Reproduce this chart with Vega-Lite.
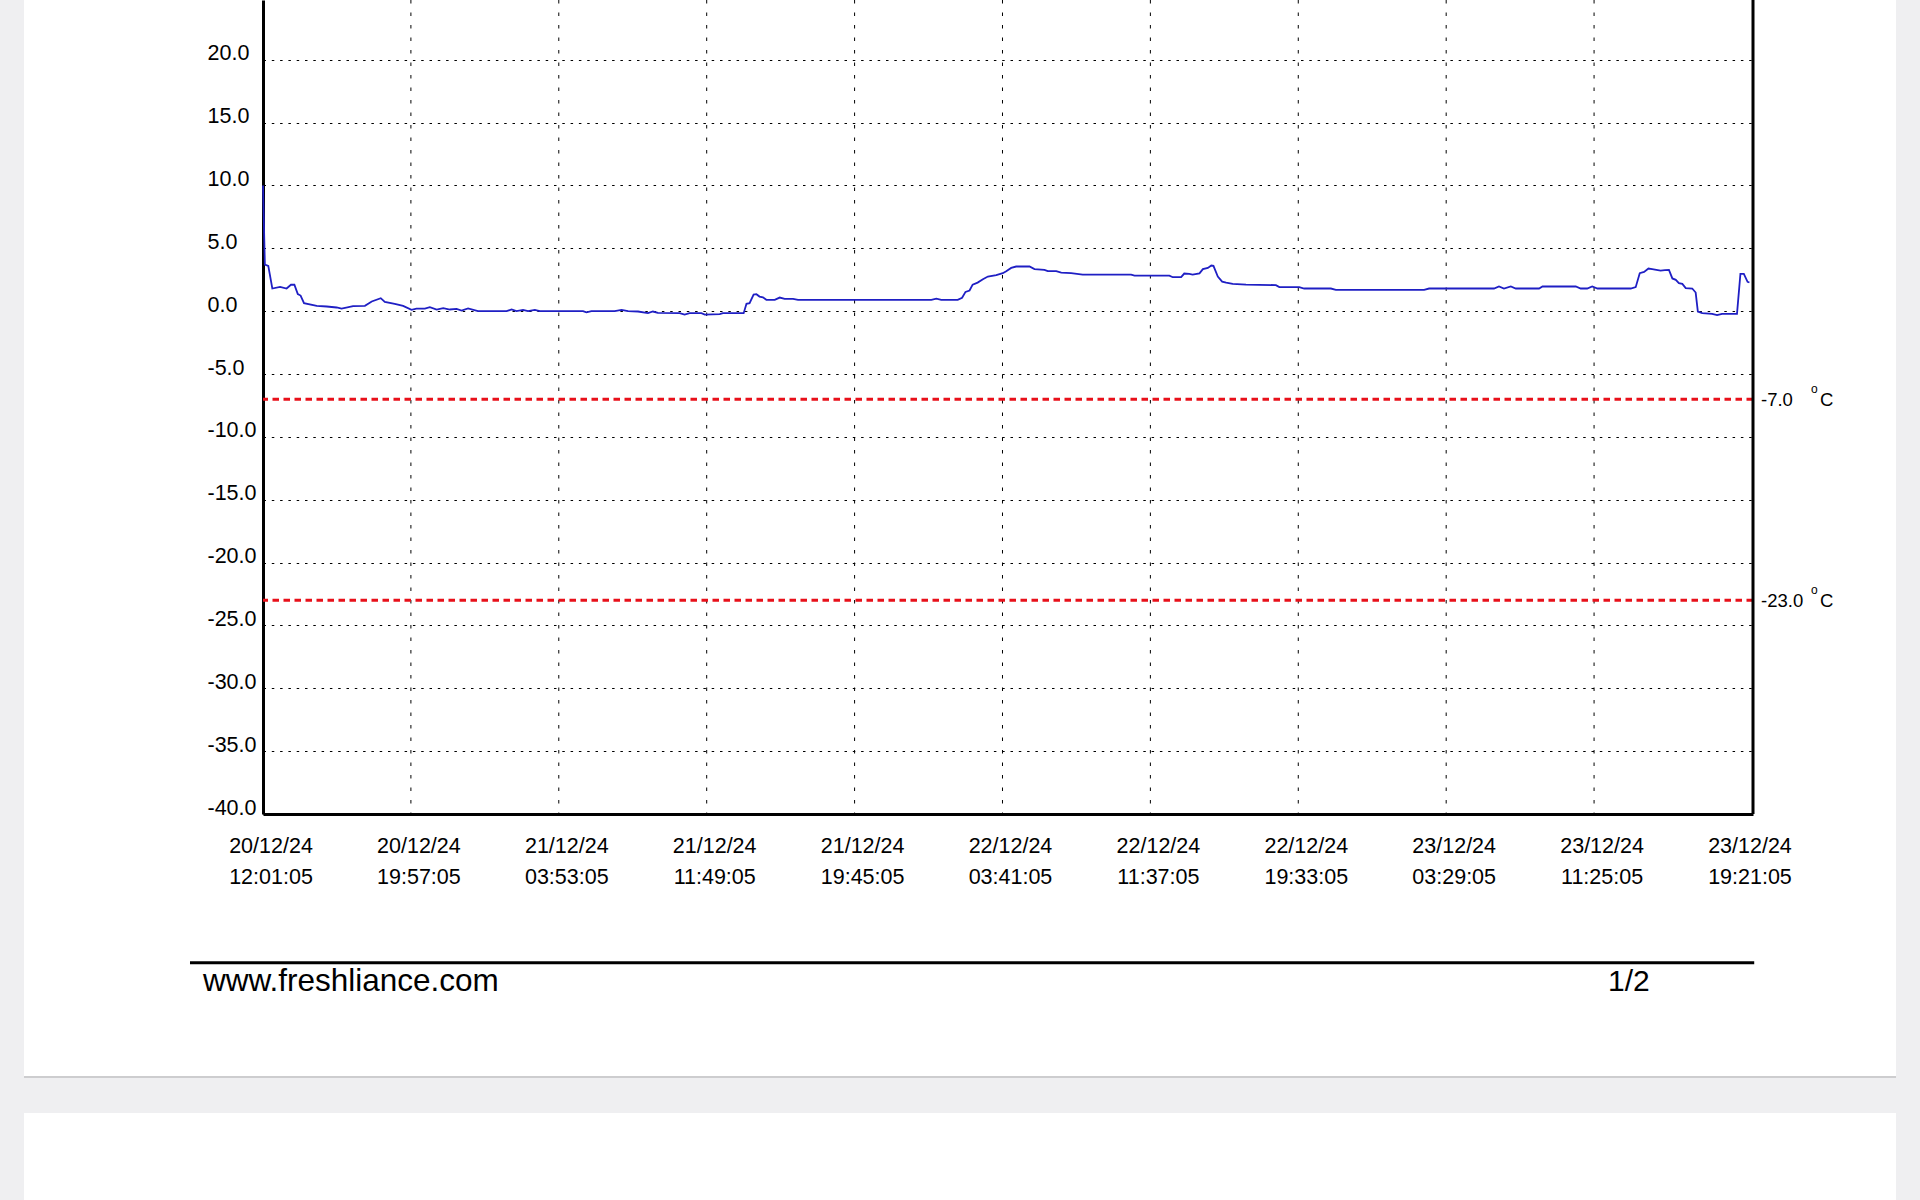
{
  "$schema": "https://vega.github.io/schema/vega-lite/v6.json",
  "autosize": {"type": "none"},
  "padding": {"left": 263, "top": 0, "right": 167, "bottom": 386},
  "width": 1490,
  "height": 814,
  "background": "white",
  "config": {"font": "Liberation Sans", "view": {"stroke": null}},
  "datasets": {
    "temps": [
      {"t": "2024-12-20T12:01:05Z", "temp": 10.0},
      {"t": "2024-12-20T12:07:05Z", "temp": 3.7},
      {"t": "2024-12-20T12:18:05Z", "temp": 3.6},
      {"t": "2024-12-20T12:31:05Z", "temp": 1.8},
      {"t": "2024-12-20T12:56:05Z", "temp": 1.93},
      {"t": "2024-12-20T13:17:05Z", "temp": 1.8},
      {"t": "2024-12-20T13:31:05Z", "temp": 2.1},
      {"t": "2024-12-20T13:42:05Z", "temp": 2.1},
      {"t": "2024-12-20T13:53:05Z", "temp": 1.35},
      {"t": "2024-12-20T14:02:05Z", "temp": 1.24},
      {"t": "2024-12-20T14:13:05Z", "temp": 0.63},
      {"t": "2024-12-20T14:54:05Z", "temp": 0.42},
      {"t": "2024-12-20T15:26:05Z", "temp": 0.37},
      {"t": "2024-12-20T15:58:05Z", "temp": 0.29},
      {"t": "2024-12-20T16:14:05Z", "temp": 0.2},
      {"t": "2024-12-20T16:51:05Z", "temp": 0.4},
      {"t": "2024-12-20T17:29:05Z", "temp": 0.42},
      {"t": "2024-12-20T17:51:05Z", "temp": 0.77},
      {"t": "2024-12-20T18:20:05Z", "temp": 1.03},
      {"t": "2024-12-20T18:33:05Z", "temp": 0.74},
      {"t": "2024-12-20T19:05:05Z", "temp": 0.58},
      {"t": "2024-12-20T19:32:05Z", "temp": 0.42},
      {"t": "2024-12-20T19:59:05Z", "temp": 0.1},
      {"t": "2024-12-20T20:15:05Z", "temp": 0.2},
      {"t": "2024-12-20T20:42:05Z", "temp": 0.2},
      {"t": "2024-12-20T20:58:05Z", "temp": 0.32},
      {"t": "2024-12-20T21:20:05Z", "temp": 0.13},
      {"t": "2024-12-20T21:41:05Z", "temp": 0.24},
      {"t": "2024-12-20T22:02:05Z", "temp": 0.13},
      {"t": "2024-12-20T22:24:05Z", "temp": 0.18},
      {"t": "2024-12-20T22:40:05Z", "temp": 0.05},
      {"t": "2024-12-20T23:01:05Z", "temp": 0.21},
      {"t": "2024-12-20T23:33:05Z", "temp": 0.0},
      {"t": "2024-12-21T01:05:05Z", "temp": 0.0},
      {"t": "2024-12-21T01:21:05Z", "temp": 0.13},
      {"t": "2024-12-21T01:37:05Z", "temp": 0.0},
      {"t": "2024-12-21T01:58:05Z", "temp": 0.1},
      {"t": "2024-12-21T02:14:05Z", "temp": 0.0},
      {"t": "2024-12-21T02:36:05Z", "temp": 0.1},
      {"t": "2024-12-21T02:52:05Z", "temp": 0.0},
      {"t": "2024-12-21T05:11:05Z", "temp": 0.0},
      {"t": "2024-12-21T05:22:05Z", "temp": -0.1},
      {"t": "2024-12-21T05:38:05Z", "temp": 0.0},
      {"t": "2024-12-21T06:53:05Z", "temp": 0.0},
      {"t": "2024-12-21T07:15:05Z", "temp": 0.1},
      {"t": "2024-12-21T07:36:05Z", "temp": 0.0},
      {"t": "2024-12-21T08:08:05Z", "temp": -0.03},
      {"t": "2024-12-21T08:40:05Z", "temp": -0.16},
      {"t": "2024-12-21T08:56:05Z", "temp": -0.03},
      {"t": "2024-12-21T09:12:05Z", "temp": -0.13},
      {"t": "2024-12-21T10:22:05Z", "temp": -0.16},
      {"t": "2024-12-21T10:38:05Z", "temp": -0.27},
      {"t": "2024-12-21T10:54:05Z", "temp": -0.16},
      {"t": "2024-12-21T11:32:05Z", "temp": -0.16},
      {"t": "2024-12-21T11:43:05Z", "temp": -0.27},
      {"t": "2024-12-21T12:31:05Z", "temp": -0.24},
      {"t": "2024-12-21T12:41:05Z", "temp": -0.16},
      {"t": "2024-12-21T13:48:05Z", "temp": -0.16},
      {"t": "2024-12-21T13:57:05Z", "temp": 0.58},
      {"t": "2024-12-21T14:07:05Z", "temp": 0.63},
      {"t": "2024-12-21T14:20:05Z", "temp": 1.32},
      {"t": "2024-12-21T14:29:05Z", "temp": 1.35},
      {"t": "2024-12-21T14:39:05Z", "temp": 1.16},
      {"t": "2024-12-21T14:50:05Z", "temp": 1.1},
      {"t": "2024-12-21T15:01:05Z", "temp": 0.9},
      {"t": "2024-12-21T15:28:05Z", "temp": 0.9},
      {"t": "2024-12-21T15:44:05Z", "temp": 1.08},
      {"t": "2024-12-21T16:00:05Z", "temp": 0.98},
      {"t": "2024-12-21T16:27:05Z", "temp": 0.98},
      {"t": "2024-12-21T16:43:05Z", "temp": 0.9},
      {"t": "2024-12-21T23:52:05Z", "temp": 0.9},
      {"t": "2024-12-22T00:08:05Z", "temp": 1.0},
      {"t": "2024-12-22T00:24:05Z", "temp": 0.9},
      {"t": "2024-12-22T01:17:05Z", "temp": 0.9},
      {"t": "2024-12-22T01:31:05Z", "temp": 1.06},
      {"t": "2024-12-22T01:42:05Z", "temp": 1.53},
      {"t": "2024-12-22T01:55:05Z", "temp": 1.64},
      {"t": "2024-12-22T02:05:05Z", "temp": 2.11},
      {"t": "2024-12-22T02:21:05Z", "temp": 2.27},
      {"t": "2024-12-22T02:38:05Z", "temp": 2.54},
      {"t": "2024-12-22T02:54:05Z", "temp": 2.75},
      {"t": "2024-12-22T03:21:05Z", "temp": 2.86},
      {"t": "2024-12-22T03:42:05Z", "temp": 3.02},
      {"t": "2024-12-22T03:53:05Z", "temp": 3.18},
      {"t": "2024-12-22T04:09:05Z", "temp": 3.44},
      {"t": "2024-12-22T04:25:05Z", "temp": 3.55},
      {"t": "2024-12-22T05:08:05Z", "temp": 3.55},
      {"t": "2024-12-22T05:24:05Z", "temp": 3.34},
      {"t": "2024-12-22T05:56:05Z", "temp": 3.28},
      {"t": "2024-12-22T06:07:05Z", "temp": 3.18},
      {"t": "2024-12-22T06:34:05Z", "temp": 3.18},
      {"t": "2024-12-22T06:50:05Z", "temp": 3.07},
      {"t": "2024-12-22T07:22:05Z", "temp": 3.02},
      {"t": "2024-12-22T07:59:05Z", "temp": 2.91},
      {"t": "2024-12-22T10:35:05Z", "temp": 2.91},
      {"t": "2024-12-22T10:46:05Z", "temp": 2.83},
      {"t": "2024-12-22T12:38:05Z", "temp": 2.83},
      {"t": "2024-12-22T12:49:05Z", "temp": 2.7},
      {"t": "2024-12-22T13:16:05Z", "temp": 2.7},
      {"t": "2024-12-22T13:26:05Z", "temp": 2.99},
      {"t": "2024-12-22T13:42:05Z", "temp": 2.96},
      {"t": "2024-12-22T13:53:05Z", "temp": 2.91},
      {"t": "2024-12-22T14:15:05Z", "temp": 3.0},
      {"t": "2024-12-22T14:26:05Z", "temp": 3.34},
      {"t": "2024-12-22T14:42:05Z", "temp": 3.44},
      {"t": "2024-12-22T14:53:05Z", "temp": 3.63},
      {"t": "2024-12-22T15:00:05Z", "temp": 3.6},
      {"t": "2024-12-22T15:14:05Z", "temp": 2.75},
      {"t": "2024-12-22T15:28:05Z", "temp": 2.35},
      {"t": "2024-12-22T15:41:05Z", "temp": 2.27},
      {"t": "2024-12-22T16:02:05Z", "temp": 2.17},
      {"t": "2024-12-22T16:45:05Z", "temp": 2.11},
      {"t": "2024-12-22T18:21:05Z", "temp": 2.07},
      {"t": "2024-12-22T18:32:05Z", "temp": 1.91},
      {"t": "2024-12-22T19:36:05Z", "temp": 1.91},
      {"t": "2024-12-22T19:52:05Z", "temp": 1.8},
      {"t": "2024-12-22T21:18:05Z", "temp": 1.8},
      {"t": "2024-12-22T21:34:05Z", "temp": 1.69},
      {"t": "2024-12-23T02:18:05Z", "temp": 1.69},
      {"t": "2024-12-23T02:34:05Z", "temp": 1.8},
      {"t": "2024-12-23T06:03:05Z", "temp": 1.8},
      {"t": "2024-12-23T06:19:05Z", "temp": 1.96},
      {"t": "2024-12-23T06:35:05Z", "temp": 1.8},
      {"t": "2024-12-23T06:57:05Z", "temp": 1.96},
      {"t": "2024-12-23T07:13:05Z", "temp": 1.8},
      {"t": "2024-12-23T08:28:05Z", "temp": 1.8},
      {"t": "2024-12-23T08:39:05Z", "temp": 1.96},
      {"t": "2024-12-23T10:26:05Z", "temp": 1.96},
      {"t": "2024-12-23T10:42:05Z", "temp": 1.8},
      {"t": "2024-12-23T11:03:05Z", "temp": 1.8},
      {"t": "2024-12-23T11:19:05Z", "temp": 1.96},
      {"t": "2024-12-23T11:36:05Z", "temp": 1.8},
      {"t": "2024-12-23T13:23:05Z", "temp": 1.8},
      {"t": "2024-12-23T13:39:05Z", "temp": 1.91},
      {"t": "2024-12-23T13:52:05Z", "temp": 3.02},
      {"t": "2024-12-23T14:06:05Z", "temp": 3.12},
      {"t": "2024-12-23T14:20:05Z", "temp": 3.39},
      {"t": "2024-12-23T14:32:05Z", "temp": 3.34},
      {"t": "2024-12-23T14:59:05Z", "temp": 3.23},
      {"t": "2024-12-23T15:13:05Z", "temp": 3.26},
      {"t": "2024-12-23T15:26:05Z", "temp": 3.28},
      {"t": "2024-12-23T15:37:05Z", "temp": 2.6},
      {"t": "2024-12-23T15:48:05Z", "temp": 2.49},
      {"t": "2024-12-23T15:58:05Z", "temp": 2.23},
      {"t": "2024-12-23T16:09:05Z", "temp": 2.17},
      {"t": "2024-12-23T16:20:05Z", "temp": 1.83},
      {"t": "2024-12-23T16:41:05Z", "temp": 1.8},
      {"t": "2024-12-23T16:52:05Z", "temp": 1.48},
      {"t": "2024-12-23T16:59:05Z", "temp": -0.03},
      {"t": "2024-12-23T17:13:05Z", "temp": -0.16},
      {"t": "2024-12-23T17:45:05Z", "temp": -0.21},
      {"t": "2024-12-23T18:01:05Z", "temp": -0.32},
      {"t": "2024-12-23T18:17:05Z", "temp": -0.21},
      {"t": "2024-12-23T19:05:05Z", "temp": -0.21},
      {"t": "2024-12-23T19:16:05Z", "temp": 2.96},
      {"t": "2024-12-23T19:27:05Z", "temp": 2.96},
      {"t": "2024-12-23T19:39:05Z", "temp": 2.33},
      {"t": "2024-12-23T19:45:05Z", "temp": 2.28}
    ],
    "limits": [
      {"limit": -7, "label": "-7.0"},
      {"limit": -23, "label": "-23.0"}
    ],
    "vgrid": [
      {"g": "2024-12-20T19:57:05Z"},
      {"g": "2024-12-21T03:53:05Z"},
      {"g": "2024-12-21T11:49:05Z"},
      {"g": "2024-12-21T19:45:05Z"},
      {"g": "2024-12-22T03:41:05Z"},
      {"g": "2024-12-22T11:37:05Z"},
      {"g": "2024-12-22T19:33:05Z"},
      {"g": "2024-12-23T03:29:05Z"},
      {"g": "2024-12-23T11:25:05Z"}
    ]
  },
  "layer": [
    {
      "data": {"name": "vgrid"},
      "mark": {"type": "rule", "color": "#000000", "strokeWidth": 1, "strokeDash": [3.5, 9]},
      "encoding": {"x": {"field": "g", "type": "temporal"}}
    },
    {
      "data": {"name": "temps"},
      "mark": {"type": "line", "color": "#1f1fc4", "strokeWidth": 1.8, "clip": false},
      "encoding": {
        "x": {
          "field": "t",
          "type": "temporal",
          "scale": {
            "type": "utc",
            "domain": [
              {"year": 2024, "month": 12, "date": 20, "hours": 12, "minutes": 1, "seconds": 5, "utc": true},
              {"year": 2024, "month": 12, "date": 23, "hours": 19, "minutes": 56, "seconds": 35, "utc": true}
            ],
            "nice": false
          },
          "axis": {
            "title": null,
            "values": [
              {"year": 2024, "month": 12, "date": 20, "hours": 12, "minutes": 1, "seconds": 5, "utc": true},
              {"year": 2024, "month": 12, "date": 20, "hours": 19, "minutes": 57, "seconds": 5, "utc": true},
              {"year": 2024, "month": 12, "date": 21, "hours": 3, "minutes": 53, "seconds": 5, "utc": true},
              {"year": 2024, "month": 12, "date": 21, "hours": 11, "minutes": 49, "seconds": 5, "utc": true},
              {"year": 2024, "month": 12, "date": 21, "hours": 19, "minutes": 45, "seconds": 5, "utc": true},
              {"year": 2024, "month": 12, "date": 22, "hours": 3, "minutes": 41, "seconds": 5, "utc": true},
              {"year": 2024, "month": 12, "date": 22, "hours": 11, "minutes": 37, "seconds": 5, "utc": true},
              {"year": 2024, "month": 12, "date": 22, "hours": 19, "minutes": 33, "seconds": 5, "utc": true},
              {"year": 2024, "month": 12, "date": 23, "hours": 3, "minutes": 29, "seconds": 5, "utc": true},
              {"year": 2024, "month": 12, "date": 23, "hours": 11, "minutes": 25, "seconds": 5, "utc": true},
              {"year": 2024, "month": 12, "date": 23, "hours": 19, "minutes": 21, "seconds": 5, "utc": true}
            ],
            "labelExpr": "[utcFormat(datum.value, '%d/%m/%y'), utcFormat(datum.value, '%H:%M:%S')]",
            "grid": false,
            "ticks": false,
            "tickSize": 0,
            "domainColor": "#000000",
            "domainWidth": 3,
            "labelFont": "Liberation Sans",
            "labelFontSize": 21.5,
            "labelColor": "#000000",
            "labelBaseline": "top",
            "labelPadding": 21,
            "labelLineHeight": 31,
            "labelFlush": false,
            "labelOverlap": false,
            "labelAlign": "center",
            "labelOffset": 7.5
          }
        },
        "y": {
          "field": "temp",
          "type": "quantitative",
          "scale": {"domain": [-40, 24.75], "nice": false, "zero": false},
          "axis": {
            "title": null,
            "values": [-40, -35, -30, -25, -20, -15, -10, -5, 0, 5, 10, 15, 20],
            "format": ".1f",
            "labelExpr": "replace(datum.label, '\u2212', '-')",
            "grid": true,
            "gridColor": "#000000",
            "gridDash": [2.5, 5.8],
            "gridWidth": 1,
            "ticks": false,
            "tickSize": 0,
            "domainColor": "#000000",
            "domainWidth": 3,
            "labelFont": "Liberation Sans",
            "labelFontSize": 21.5,
            "labelColor": "#000000",
            "labelAlign": "left",
            "labelBaseline": "alphabetic",
            "labelPadding": 56,
            "labelOverlap": false,
            "labelFlush": false
          }
        }
      }
    },
    {
      "data": {"name": "limits"},
      "mark": {"type": "rule", "color": "#e8101a", "strokeWidth": 3, "strokeDash": [6.5, 4.5]},
      "encoding": {"y": {"field": "limit", "type": "quantitative"}}
    },
    {
      "data": {"name": "limits"},
      "mark": {"type": "text", "align": "left", "baseline": "alphabetic", "dx": 8, "dy": 6.4, "fontSize": 18.5, "font": "Liberation Sans", "color": "#000000", "clip": false},
      "encoding": {
        "x": {"datum": {"year": 2024, "month": 12, "date": 23, "hours": 19, "minutes": 56, "seconds": 35, "utc": true}, "type": "temporal"},
        "y": {"field": "limit", "type": "quantitative"},
        "text": {"field": "label"}
      }
    },
    {
      "data": {"name": "limits"},
      "mark": {"type": "text", "align": "left", "baseline": "alphabetic", "dx": 58, "dy": -6.5, "fontSize": 12, "font": "Liberation Sans", "color": "#000000", "clip": false, "text": "o"},
      "encoding": {
        "x": {"datum": {"year": 2024, "month": 12, "date": 23, "hours": 19, "minutes": 56, "seconds": 35, "utc": true}, "type": "temporal"},
        "y": {"field": "limit", "type": "quantitative"}
      }
    },
    {
      "data": {"name": "limits"},
      "mark": {"type": "text", "align": "left", "baseline": "alphabetic", "dx": 67, "dy": 6.4, "fontSize": 18.5, "font": "Liberation Sans", "color": "#000000", "clip": false, "text": "C"},
      "encoding": {
        "x": {"datum": {"year": 2024, "month": 12, "date": 23, "hours": 19, "minutes": 56, "seconds": 35, "utc": true}, "type": "temporal"},
        "y": {"field": "limit", "type": "quantitative"}
      }
    },
    {
      "data": {"values": [{}]},
      "mark": {"type": "rule", "color": "#000000", "strokeWidth": 3},
      "encoding": {
        "x": {"datum": {"year": 2024, "month": 12, "date": 23, "hours": 19, "minutes": 56, "seconds": 35, "utc": true}, "type": "temporal"}
      }
    },
    {
      "data": {"values": [{}]},
      "mark": {"type": "rule", "color": "#000000", "strokeWidth": 3, "clip": false},
      "encoding": {
        "x": {"datum": {"year": 2024, "month": 12, "date": 20, "hours": 8, "minutes": 6, "seconds": 8, "utc": true}, "type": "temporal"},
        "x2": {"datum": {"year": 2024, "month": 12, "date": 23, "hours": 20, "minutes": 0, "seconds": 30, "utc": true}},
        "y": {"datum": -51.83, "type": "quantitative"}
      }
    },
    {
      "data": {"values": [{}]},
      "mark": {"type": "text", "align": "left", "baseline": "alphabetic", "fontSize": 31.5, "font": "Liberation Sans", "color": "#000000", "clip": false, "text": "www.freshliance.com"},
      "encoding": {
        "x": {"datum": {"year": 2024, "month": 12, "date": 20, "hours": 8, "minutes": 47, "seconds": 59, "utc": true}, "type": "temporal"},
        "y": {"datum": -54.06, "type": "quantitative"}
      }
    },
    {
      "data": {"values": [{}]},
      "mark": {"type": "text", "align": "left", "baseline": "alphabetic", "fontSize": 30, "font": "Liberation Sans", "color": "#000000", "clip": false, "text": "1/2"},
      "encoding": {
        "x": {"datum": {"year": 2024, "month": 12, "date": 23, "hours": 12, "minutes": 10, "seconds": 0, "utc": true}, "type": "temporal"},
        "y": {"datum": -54.06, "type": "quantitative"}
      }
    },
    {
      "data": {"values": [{}]},
      "mark": {"type": "rect", "color": "#efeff1", "clip": false},
      "encoding": {
        "x": {"datum": {"year": 2024, "month": 12, "date": 19, "hours": 0, "minutes": 0, "seconds": 0, "utc": true}, "type": "temporal"},
        "x2": {"datum": {"year": 2024, "month": 12, "date": 19, "hours": 23, "minutes": 11, "seconds": 53, "utc": true}},
        "y": {"datum": 40, "type": "quantitative"},
        "y2": {"datum": -90}
      }
    },
    {
      "data": {"values": [{}]},
      "mark": {"type": "rect", "color": "#efeff1", "clip": false},
      "encoding": {
        "x": {"datum": {"year": 2024, "month": 12, "date": 24, "hours": 3, "minutes": 36, "seconds": 54, "utc": true}, "type": "temporal"},
        "x2": {"datum": {"year": 2024, "month": 12, "date": 25, "hours": 12, "minutes": 0, "seconds": 0, "utc": true}},
        "y": {"datum": 40, "type": "quantitative"},
        "y2": {"datum": -90}
      }
    },
    {
      "data": {"values": [{}]},
      "mark": {"type": "rect", "color": "#efeff1", "clip": false},
      "encoding": {
        "x": {"datum": {"year": 2024, "month": 12, "date": 19, "hours": 0, "minutes": 0, "seconds": 0, "utc": true}, "type": "temporal"},
        "x2": {"datum": {"year": 2024, "month": 12, "date": 25, "hours": 12, "minutes": 0, "seconds": 0, "utc": true}},
        "y": {"datum": -60.84, "type": "quantitative"},
        "y2": {"datum": -63.79}
      }
    },
    {
      "data": {"values": [{}]},
      "mark": {"type": "rule", "color": "#cdcdcf", "strokeWidth": 2, "clip": false},
      "encoding": {
        "x": {"datum": {"year": 2024, "month": 12, "date": 19, "hours": 23, "minutes": 11, "seconds": 53, "utc": true}, "type": "temporal"},
        "x2": {"datum": {"year": 2024, "month": 12, "date": 24, "hours": 3, "minutes": 36, "seconds": 54, "utc": true}},
        "y": {"datum": -60.92, "type": "quantitative"}
      }
    }
  ]
}
